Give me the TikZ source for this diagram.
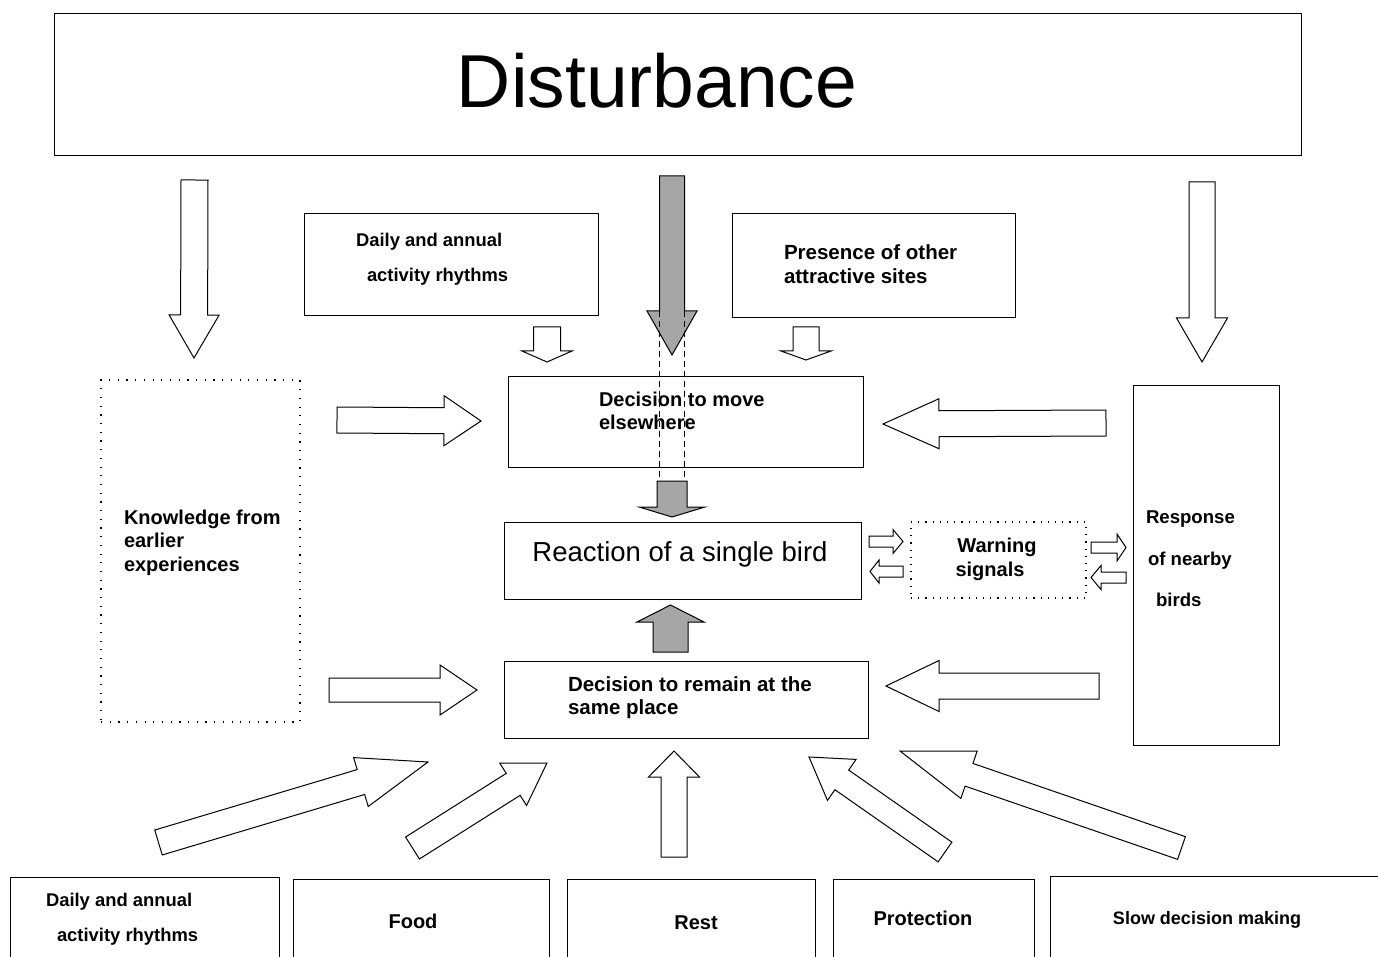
\documentclass[tikz,border=0pt]{standalone}
\usepackage{fontspec}
\setmainfont{Liberation Sans}
\usetikzlibrary{calc,fit}
\tikzset{
  box/.style={draw, line width=1pt, inner sep=0pt, outer sep=0pt},
  dotbox/.style={draw, line width=1.2pt, dash pattern=on 1.2pt off 7.5pt, inner sep=0pt, outer sep=0pt},
  lbl/.style={inner sep=0pt, outer sep=0pt, font=\bfseries\fontsize{20}{23}\selectfont},
  small/.style={font=\bfseries\fontsize{18.4}{22}\selectfont},
  fat/.style={draw, line width=1pt, fill=white, line join=miter},
  shaded/.style={fill=black!35},
  guide/.style={line width=0.8pt, dash pattern=on 6pt off 4pt},
}
\newcommand\blockarrow[6][]{%
  \coordinate (ba-m) at ($(#3)!#6!(#2)$);
  \draw[fat,#1] ($(#2)!#4!90:(#3)$) -- ($(ba-m)!#4!90:(#3)$) -- ($(ba-m)!#5!90:(#3)$) -- (#3)
    -- ($(ba-m)!#5!-90:(#3)$) -- ($(ba-m)!#4!-90:(#3)$) -- ($(#2)!#4!-90:(#3)$) -- cycle;
}
\begin{document}
\begin{tikzpicture}[x=1pt,y=-1pt]
\useasboundingbox (0,0) rectangle (1378,957);
\clip (0,0) rectangle (1378,957);
\fill[white] (0,0) rectangle (1378,957);

% ---------- boxes ----------
\node[box, fit={(54,14)(1301,156)}] (dist) {};
\node[box, fit={(304,214)(598,316)}] (daily1) {};
\node[box, fit={(732,214)(1015,318)}] (pres) {};
\node[dotbox, fit={(101,380)(300,722)}] (know) {};
\node[box, fit={(508,376)(863,467)}] (move) {};
\node[box, fit={(504,522)(861,599)}] (react) {};
\node[box, fit={(504,661)(868,738)}] (remain) {};
\node[dotbox, dash pattern=on 1.2pt off 6pt, fit={(911,522)(1086,598)}] (warn) {};
\node[box, fit={(1133,385)(1279,745)}] (resp) {};
\node[box, fit={(10,877)(279,975)}] (daily2) {};
\node[box, fit={(293,879)(549,975)}] (food) {};
\node[box, fit={(567,879)(815,975)}] (rest) {};
\node[box, fit={(833,879)(1034,975)}] (prot) {};
\node[box, fit={(1050,876)(1395,975)}] (slow) {};

% ---------- texts ----------
\node[inner sep=0pt, anchor=base, font=\fontsize{75}{80}\selectfont] (t-dist) at (657,108) {Disturbance};
\node[lbl, small, anchor=base west] (t-d1a) at (356,247) {Daily and annual};
\node[lbl, small, anchor=base west] (t-d1b) at (367,282) {activity rhythms};
\node[lbl, anchor=base west, font=\bfseries\fontsize{20.5}{23}\selectfont] (t-pra) at (784,260) {Presence of other};
\node[lbl, anchor=base west, font=\bfseries\fontsize{20.5}{23}\selectfont] (t-prb) at (784,284) {attractive sites};
\node[lbl, anchor=base west] (t-mva) at (599,406) {Decision to move};
\node[lbl, anchor=base west] (t-mvb) at (599,429) {elsewhere};
\node[lbl, anchor=base west] (t-kna) at (124,524) {Knowledge from};
\node[lbl, anchor=base west] (t-knb) at (124,547) {earlier};
\node[lbl, anchor=base west] (t-knc) at (124,571) {experiences};
\node[inner sep=0pt, anchor=base, font=\fontsize{27.5}{30}\selectfont] (t-react) at (680,561) {Reaction of a single bird};
\node[lbl, anchor=base west, font=\bfseries\fontsize{20.5}{23}\selectfont] (t-rma) at (568,691) {Decision to remain at the};
\node[lbl, anchor=base west, font=\bfseries\fontsize{20.5}{23}\selectfont] (t-rmb) at (568,714) {same place};
\node[lbl, anchor=base] (t-wna) at (997,552) {Warning};
\node[lbl, anchor=base] (t-wnb) at (990,576) {signals};
\node[lbl, anchor=base west, font=\bfseries\fontsize{18.6}{22}\selectfont] (t-rsa) at (1146,523) {Response};
\node[lbl, anchor=base west, font=\bfseries\fontsize{18.6}{22}\selectfont] (t-rsb) at (1148,565) {of nearby};
\node[lbl, anchor=base west, font=\bfseries\fontsize{18.6}{22}\selectfont] (t-rsc) at (1156,606) {birds};
\node[lbl, small, anchor=base west] (t-d2a) at (46,906) {Daily and annual};
\node[lbl, small, anchor=base west] (t-d2b) at (57,941) {activity rhythms};
\node[lbl, anchor=base] (t-food) at (413,928) {Food};
\node[lbl, anchor=base] (t-rest) at (696,929) {Rest};
\node[lbl, anchor=base] (t-prot) at (923,925) {Protection};
\node[lbl, anchor=base, font=\bfseries\fontsize{18}{22}\selectfont] (t-slow) at (1207,924) {Slow decision making};

% ---------- arrow end points ----------
\coordinate (dL-t) at (194.5,180);  \coordinate (dL-h) at (194,358);
\coordinate (dM-t) at (672,176);    \coordinate (dM-h) at (672,355);
\coordinate (dR-t) at (1202,182);   \coordinate (dR-h) at (1202,362);
\coordinate (sL-t) at (547,327);    \coordinate (sL-h) at (547,362);
\coordinate (sR-t) at (806,327);    \coordinate (sR-h) at (806,360);
\coordinate (gD-t) at (672,481);    \coordinate (gD-h) at (672,517);
\coordinate (gU-t) at (670.5,652);  \coordinate (gU-h) at (670.5,605);
\coordinate (hLu-t) at (337,420);   \coordinate (hLu-h) at (481,421);
\coordinate (hLd-t) at (329,690);   \coordinate (hLd-h) at (477,690);
\coordinate (hRu-t) at (1106,423);  \coordinate (hRu-h) at (883,424);
\coordinate (hRd-t) at (1099,686);  \coordinate (hRd-h) at (886,686);
\coordinate (w1-t) at (869,541.5);  \coordinate (w1-h) at (903,541.5);
\coordinate (w2-t) at (903,571.5);  \coordinate (w2-h) at (870,571.5);
\coordinate (w3-t) at (1091,547.5); \coordinate (w3-h) at (1126,547.5);
\coordinate (w4-t) at (1126,577.5); \coordinate (w4-h) at (1091,577.5);
\coordinate (bA-t) at (158.5,842.5); \coordinate (bA-h) at (428,762);
\coordinate (bB-t) at (412.5,848);  \coordinate (bB-h) at (547,763);
\coordinate (bC-t) at (674,857);    \coordinate (bC-h) at (674,751);
\coordinate (bD-t) at (945,852);    \coordinate (bD-h) at (809,757);
\coordinate (bE-t) at (1181.5,848); \coordinate (bE-h) at (900,751);

% ---------- block arrows ----------
\blockarrow{dL-t}{dL-h}{13.5pt}{25pt}{43pt}
\blockarrow[shaded]{dM-t}{dM-h}{12.5pt}{25pt}{44pt}
\blockarrow{dR-t}{dR-h}{13pt}{25.5pt}{44pt}
\blockarrow{sL-t}{sL-h}{13.5pt}{25pt}{11pt}
\blockarrow{sR-t}{sR-h}{13pt}{25pt}{9pt}
\blockarrow[shaded]{gD-t}{gD-h}{15pt}{33pt}{10pt}
\blockarrow[shaded]{gU-t}{gU-h}{17.5pt}{33.5pt}{17pt}
\blockarrow{hLu-t}{hLu-h}{13pt}{25pt}{37pt}
\blockarrow{hLd-t}{hLd-h}{12pt}{25pt}{37pt}
\blockarrow{hRu-t}{hRu-h}{13pt}{25pt}{56pt}
\blockarrow{hRd-t}{hRd-h}{13pt}{25.5pt}{53pt}
\blockarrow{w1-t}{w1-h}{5.5pt}{12pt}{10pt}
\blockarrow{w2-t}{w2-h}{5.5pt}{11.5pt}{9pt}
\blockarrow{w3-t}{w3-h}{5.5pt}{13.5pt}{9pt}
\blockarrow{w4-t}{w4-h}{5.5pt}{12pt}{10pt}
\blockarrow{bA-t}{bA-h}{13pt}{25.5pt}{70pt}
\blockarrow{bB-t}{bB-h}{13pt}{25pt}{40pt}
\blockarrow{bC-t}{bC-h}{13pt}{25.5pt}{26pt}
\blockarrow{bD-t}{bD-h}{12pt}{25pt}{40pt}
\blockarrow{bE-t}{bE-h}{12pt}{25pt}{73pt}

% ---------- dashed guide lines of the shaded path ----------
\coordinate (gl1-a) at (659.5,311); \coordinate (gl1-b) at (659.5,481);
\coordinate (gl2-a) at (684.5,311); \coordinate (gl2-b) at (684.5,481);
\draw[guide] (gl1-a) -- (gl1-b);
\draw[guide] (gl2-a) -- (gl2-b);
\end{tikzpicture}
\end{document}
